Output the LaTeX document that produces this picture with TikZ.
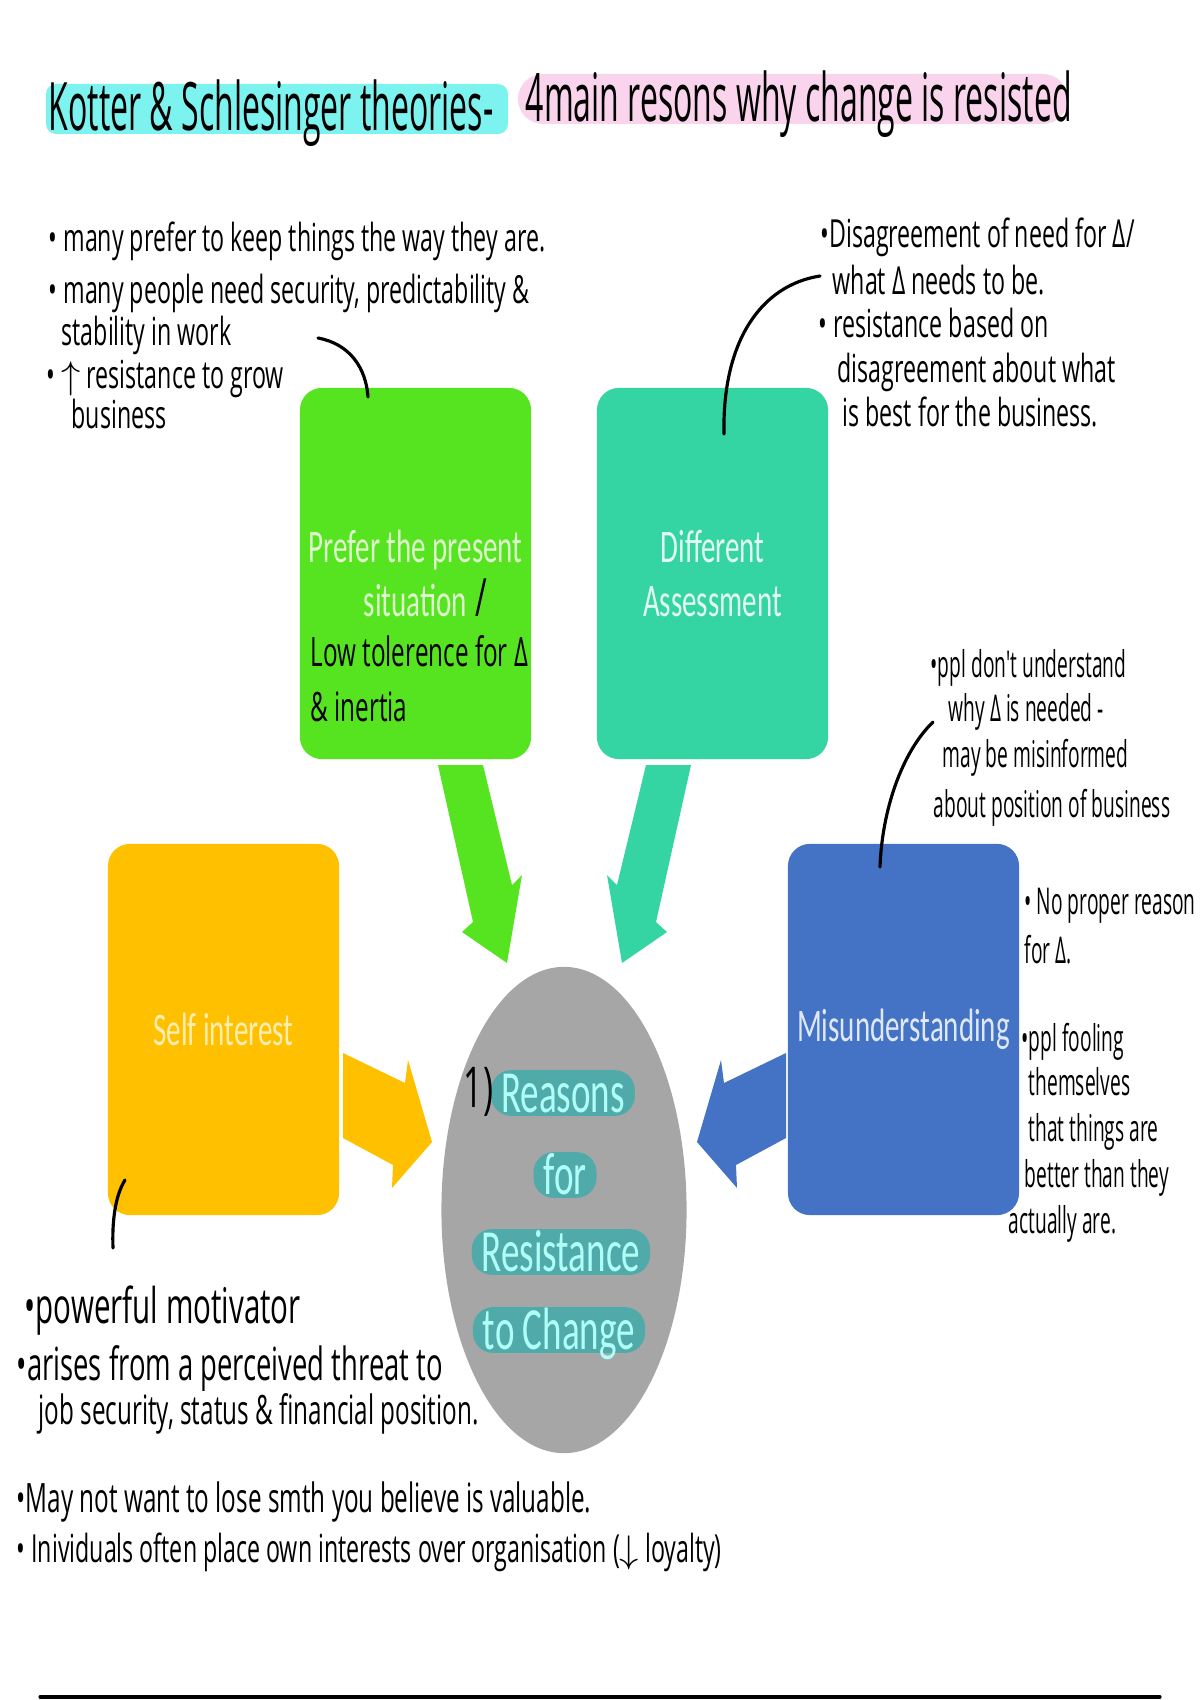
\documentclass[tikz,border=0pt]{standalone}
\usepackage{fontspec}
\setmainfont{Open Sans}
\newfontfamily\handfont[FakeStretch=0.6]{Open Sans}
\newfontfamily\narrowhand[FakeStretch=0.52]{Open Sans}
\newfontfamily\titlefont[FakeStretch=0.48]{Open Sans}
\newfontfamily\slidefont[FakeStretch=0.62]{Carlito}
\usetikzlibrary{positioning,shapes.geometric}

\definecolor{titlecyan}{RGB}{125,243,240}
\definecolor{titlepink}{RGB}{250,212,236}
\definecolor{presentgreen}{RGB}{86,228,32}
\definecolor{presenttext}{RGB}{222,246,205}
\definecolor{assessteal}{RGB}{52,212,163}
\definecolor{assesstext}{RGB}{226,250,240}
\definecolor{selfgold}{RGB}{255,192,0}
\definecolor{selftext}{RGB}{255,238,175}
\definecolor{misblue}{RGB}{68,114,196}
\definecolor{mistext}{RGB}{222,232,248}
\definecolor{coregray}{RGB}{166,166,166}
\definecolor{pillteal}{RGB}{80,170,170}
\definecolor{pilltext}{RGB}{175,255,248}

\begin{document}
\begin{tikzpicture}[x=0.01cm,y=-0.01cm,line cap=round,line join=round,
  hand/.style={font=\handfont\fontsize{11}{13}\selectfont,anchor=west,inner sep=0pt,text height=8pt,text depth=2.5pt},
  smallhand/.style={hand,font=\narrowhand\fontsize{10.5}{12}\selectfont},
  titletext/.style={font=\titlefont\fontsize{19}{19}\selectfont,anchor=base west,inner sep=0pt},
  reasonbox/.style={rounded corners=0.22cm,minimum width=2.31cm,minimum height=3.71cm,inner sep=0pt,align=center,font=\slidefont\fontsize{13.3}{15.6}\selectfont},
  pill/.style={fill=pillteal,text=pilltext,rounded corners=0.2cm,font=\slidefont\fontsize{17}{17}\selectfont,inner xsep=0.1cm,inner ysep=1pt,text height=11pt,text depth=0pt},
  note/.style={line width=0.9pt}]
\useasboundingbox (0,0) rectangle (1200,1700);
\fill[white] (0,0) rectangle (1200,1700);

% title
\fill[titlecyan,rounded corners=0.1cm] (46,84) rectangle (508,134);
\fill[titlepink,rounded corners=0.25cm] (518,74) rectangle (1068,124);
\node[titletext] (title1) at (48,130) {Kotter \& Schlesinger theories-};
\node[titletext] (title2) at (525,122) {4main resons why change is resisted};

% the four reasons
\node[reasonbox,fill=presentgreen,text=presenttext] (present) at (415.5,573.5) {Prefer the present\\situation\rlap{\handfont\fontsize{15}{15.6}\selectfont\color{black}\,/}};
\node[reasonbox,fill=assessteal,text=assesstext] (assess) at (712.5,573.5) {Different\\Assessment};
\node[reasonbox,fill=selfgold,text=selftext] (self) at (223.5,1029.5) {Self interest};
\node[reasonbox,fill=misblue,text=mistext] (mis) at (903.5,1029.5) {Misunderstanding};

% block arrows
\fill[presentgreen] (438,765) -- (483,765) -- (512,885) -- (522,875) -- (507,963) -- (462,932) -- (473,922) -- cycle;
\fill[assessteal] (691,765) -- (646,765) -- (617,885) -- (607,875) -- (622,963) -- (667,932) -- (656,922) -- cycle;
\fill[selfgold] (343,1053) -- (405,1083) -- (408,1060) -- (432,1142) -- (392,1188) -- (393,1165) -- (343,1138) -- cycle;
\fill[misblue] (786,1053) -- (724,1083) -- (721,1060) -- (697,1142) -- (737,1188) -- (736,1165) -- (786,1138) -- cycle;

% centre
\node[ellipse,fill=coregray,minimum width=2.45cm,minimum height=4.86cm,inner sep=0pt] (core) at (564,1210) {};
\node[pill] (reasons) at (563,1093) {Reasons};
\node[pill] (for) at (565,1175) {for};
\node[pill] (resistance) at (561,1252) {Resistance};
\node[pill] (tochange) at (559,1330) {to Change};
\node[hand,font=\handfont\fontsize{16}{16}\selectfont,text height=12pt,text depth=1pt] (one) at (463,1088) {1)};

% notes in the green box
\node[hand,font=\handfont\fontsize{11.5}{14}\selectfont] (tolerence) at (310,657) {Low tolerence for Δ};
\node[hand,font=\handfont\fontsize{11.5}{14}\selectfont] (inertia) at (310,712) {\& inertia};

% prefer the present
\node[hand] (keep) at (48,242) {• many prefer to keep things the way they are.};
\node[hand] (security) at (48,294) {• many people need security, predictability \&};
\node[hand] (stability) at (61,336) {stability in work};
\node[hand] (grow) at (46,379) {• $\uparrow$ resistance to grow};
\node[hand] (business) at (71,419) {business};
\coordinate (keeptip) at (318,338);
\coordinate (presentpin) at (368,397);
\draw[note] (keeptip) .. controls (350,344) and (366,368) .. (presentpin);

% different assessment
\node[hand] (disagree) at (820,238) {•Disagreement of need for Δ/};
\node[hand] (needs) at (832,285) {what Δ needs to be.};
\node[hand] (based) at (818,328) {• resistance based on};
\node[hand] (about) at (837,373) {disagreement about what};
\node[hand] (best) at (842,417) {is best for the business.};
\coordinate (disagreetip) at (820,276);
\coordinate (assesspin) at (724,434);
\draw[note] (disagreetip) .. controls (762,285) and (722,340) .. (assesspin);

% misunderstanding
\node[smallhand] (dont) at (930,668) {•ppl don't understand};
\node[smallhand] (why) at (948,712) {why Δ is needed -};
\node[smallhand] (misinf) at (942,758) {may be misinformed};
\node[smallhand] (position) at (933,808) {about position of business};
\coordinate (whytip) at (933,722);
\coordinate (mispin) at (880,867);
\draw[note] (whytip) .. controls (902,752) and (882,810) .. (mispin);
\node[smallhand] (noreason) at (1024,905) {• No proper reason};
\node[smallhand] (forchange) at (1024,954) {for Δ.};
\node[smallhand] (fooling) at (1021,1042) {•ppl fooling};
\node[smallhand] (themselves) at (1028,1086) {themselves};
\node[smallhand] (things) at (1028,1132) {that things are};
\node[smallhand] (better) at (1024,1178) {better than they};
\node[smallhand] (actually) at (1008,1224) {actually are.};

% self interest
\coordinate (selfpin) at (125,1180);
\coordinate (motivtip) at (113,1248);
\draw[note] (selfpin) .. controls (115,1196) and (112,1222) .. (motivtip);
\node[hand,font=\handfont\fontsize{14}{16}\selectfont] (motivator) at (24,1314) {•powerful motivator};
\node[hand,font=\handfont\fontsize{13}{15}\selectfont] (threat) at (16,1371) {•arises from a perceived threat to};
\node[hand,font=\handfont\fontsize{11.5}{13}\selectfont] (jobsec) at (38,1415) {job security, status \& financial position.};
\node[hand,font=\handfont\fontsize{11.5}{13}\selectfont] (valuable) at (16,1503) {•May not want to lose smth you believe is valuable.};
\node[hand] (loyalty) at (16,1553) {• Inividuals often place own interests over organisation ($\downarrow$ loyalty)};

% rule at the foot
\draw[line width=0.9pt] (40,1697) -- (1160,1697);
\end{tikzpicture}
\end{document}
